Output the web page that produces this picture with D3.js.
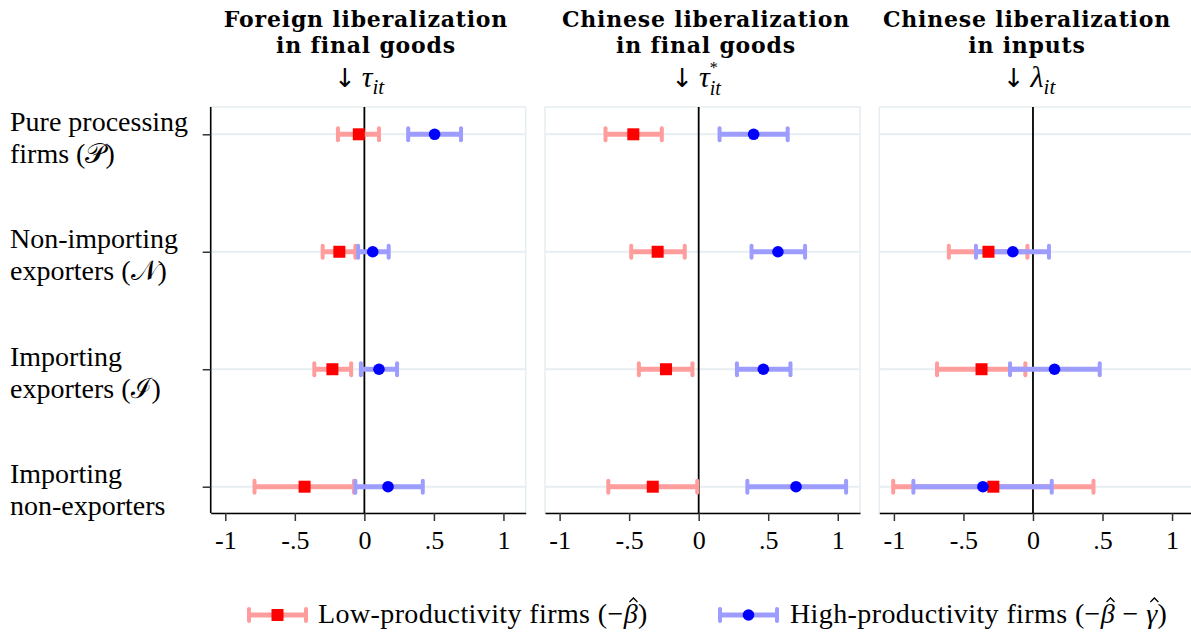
<!DOCTYPE html>
<html>
<head>
<meta charset="utf-8">
<script src="https://cdn.jsdelivr.net/npm/d3@7"></script>
<style>
  html, body { margin: 0; padding: 0; background: #fff; }
  svg { display: block; }
</style>
</head>
<body>
<script>
// ---------------- DATA ----------------
const categories = ["P", "N", "I", "M"];
const categoryLabels = [
  ["Pure processing", "firms (\u{1D4AB})"],
  ["Non-importing", "exporters (\u{1D4A9})"],
  ["Importing", "exporters (\u2110)"],
  ["Importing", "non-exporters"]
];
const panelTitles = [
  ["Foreign liberalization", "in final goods"],
  ["Chinese liberalization", "in final goods"],
  ["Chinese liberalization", "in inputs"]
];
const panelSymbols = ["\u03C4", "\u03C4", "\u03BB"];
const panelSuperscripts = ["", "*", ""];
const tickValues = [-1, -0.5, 0, 0.5, 1];
const tickLabels = ["-1", "-.5", "0", ".5", "1"];
const seriesNames = ["Low-productivity firms", "High-productivity firms"];

// Low-productivity firms (-beta): estimate, lower CI, upper CI per panel, per category
const lowEst = [[-0.04, -0.18, -0.23, -0.43], [-0.47, -0.295, -0.235, -0.33], [null, -0.32, -0.37, -0.285]];
const lowLo  = [[-0.19, -0.30, -0.36, -0.79], [-0.67, -0.485, -0.43, -0.65], [null, -0.605, -0.69, -1.005]];
const lowHi  = [[0.105, -0.065, -0.095, -0.075], [-0.265, -0.10, -0.045, -0.01], [null, -0.04, -0.055, 0.435]];
// High-productivity firms (-beta - gamma)
const highEst = [[0.505, 0.06, 0.105, 0.17], [0.395, 0.57, 0.465, 0.70], [null, -0.145, 0.155, -0.36]];
const highLo  = [[0.315, -0.045, -0.025, -0.065], [0.15, 0.38, 0.275, 0.35], [null, -0.41, -0.165, -0.86]];
const highHi  = [[0.695, 0.175, 0.235, 0.42], [0.64, 0.765, 0.66, 1.06], [null, 0.115, 0.48, 0.135]];

// ---------------- LAYOUT / STYLE ----------------
const W = 1191, H = 634;
const panelLeft = [210.7, 545, 879.3];
const panelW = 315;
const plotTop = 107, plotBottom = 513;
const rowTop = 134.3, rowBottom = 486.7;
const xDomain = [-1.105, 1.16];
const titleX = [366, 706, 1027];
const mathX = [359, 696, 1029];
const serif = "'Liberation Serif', 'Times New Roman', serif";
const titleFont = "'DejaVu Serif', 'Liberation Serif', serif";
const gridColor = "#e6eef1";
const lowCI = "#ff9d9d", lowPt = "#ff0000";
const highCI = "#9d9dff", highPt = "#0000ff";

const svg = d3.select("body").append("svg").attr("width", W).attr("height", H)
  .style("font-family", serif);

const y = d3.scalePoint().domain(categories).range([rowTop, rowBottom]);

const seriesDefs = [
  { est: lowEst, lo: lowLo, hi: lowHi, ci: lowCI, pt: lowPt, shape: "square" },
  { est: highEst, lo: highLo, hi: highHi, ci: highCI, pt: highPt, shape: "circle" }
];

panelTitles.forEach((title, p) => {
  const x = d3.scaleLinear().domain(xDomain).range([panelLeft[p], panelLeft[p] + panelW]);
  const g = svg.append("g");

  // plot region border
  g.append("rect")
    .attr("x", x.range()[0]).attr("y", plotTop)
    .attr("width", panelW).attr("height", plotBottom - plotTop)
    .attr("fill", "none").attr("stroke", gridColor).attr("stroke-width", 1.5);

  // horizontal gridlines
  g.selectAll(".grid").data(categories).join("line")
    .attr("x1", x.range()[0]).attr("x2", x.range()[1])
    .attr("y1", d => y(d)).attr("y2", d => y(d))
    .attr("stroke", gridColor).attr("stroke-width", 2);

  // zero line
  g.append("line")
    .attr("x1", x(0)).attr("x2", x(0))
    .attr("y1", plotTop).attr("y2", plotBottom)
    .attr("stroke", "#000").attr("stroke-width", 1.8);

  const rowsOf = s => categories.map((c, i) => ({ c, est: s.est[p][i], lo: s.lo[p][i], hi: s.hi[p][i] }))
    .filter(d => d.est !== null);

  // confidence intervals first
  seriesDefs.forEach(s => {
    const rows = rowsOf(s);
    const sg = g.append("g");
    sg.selectAll(".ci").data(rows).join("line")
      .attr("x1", d => x(d.lo)).attr("x2", d => x(d.hi))
      .attr("y1", d => y(d.c)).attr("y2", d => y(d.c))
      .attr("stroke", s.ci).attr("stroke-width", 5);
    ["lo", "hi"].forEach(k => {
      sg.selectAll(".cap" + k).data(rows).join("line")
        .attr("x1", d => x(d[k])).attr("x2", d => x(d[k]))
        .attr("y1", d => y(d.c) - 6).attr("y2", d => y(d.c) + 6)
        .attr("stroke", s.ci).attr("stroke-width", 4).attr("stroke-linecap", "round");
    });
  });
  // then point estimates
  seriesDefs.forEach(s => {
    const rows = rowsOf(s);
    const sg = g.append("g");
    if (s.shape === "square") {
      sg.selectAll(".pt").data(rows).join("rect")
        .attr("x", d => x(d.est) - 6).attr("y", d => y(d.c) - 6)
        .attr("width", 12).attr("height", 12).attr("fill", s.pt);
    } else {
      sg.selectAll(".pt").data(rows).join("circle")
        .attr("cx", d => x(d.est)).attr("cy", d => y(d.c))
        .attr("r", 5.8).attr("fill", s.pt);
    }
  });

  // bottom axis
  const ax = g.append("g").attr("transform", `translate(0,${plotBottom})`)
    .call(d3.axisBottom(x).tickValues(tickValues)
      .tickFormat((d, i) => tickLabels[i]).tickSize(8).tickSizeOuter(0).tickPadding(10));
  ax.select(".domain").attr("stroke", "#000").attr("stroke-width", 1.6);
  ax.selectAll(".tick line").attr("stroke", "#333").attr("stroke-width", 1.5);
  ax.selectAll(".tick text").attr("font-family", serif).attr("font-size", 26).attr("fill", "#000");

  // left axis on first panel
  if (p === 0) {
    const ay = g.append("g").attr("transform", `translate(${x.range()[0]},0)`)
      .call(d3.axisLeft(y).tickSize(8).tickSizeOuter(0).tickFormat(""));
    ay.select(".domain").attr("stroke", "#000").attr("stroke-width", 1.6)
      .attr("d", `M0,${plotTop}V${plotBottom}`);
    ay.selectAll(".tick line").attr("stroke", "#333").attr("stroke-width", 1.5);
  }

  // title
  const t = svg.append("text").attr("text-anchor", "middle").attr("font-family", titleFont)
    .attr("font-weight", "bold").attr("font-size", 22).attr("letter-spacing", 0.8).attr("fill", "#000");
  title.forEach((line, li) => {
    t.append("tspan").attr("x", titleX[p]).attr("y", 27 + li * 25.5).text(line);
  });
  // math line
  const m = svg.append("text").attr("text-anchor", "middle")
    .attr("x", mathX[p]).attr("y", 87).attr("font-size", 30).attr("fill", "#000");
  m.append("tspan").attr("font-family", "'DejaVu Sans', sans-serif").attr("font-size", 26).text("\u2193");
  m.append("tspan").attr("font-style", "italic").attr("dx", 6).text(panelSymbols[p]);
  if (panelSuperscripts[p]) {
    m.append("tspan").attr("font-size", 16).attr("dy", -14).text(panelSuperscripts[p]);
    m.append("tspan").attr("font-size", 20).attr("font-style", "italic").attr("dx", -8).attr("dy", 22).text("it");
  } else {
    m.append("tspan").attr("font-size", 21).attr("font-style", "italic").attr("dy", 7).text("it");
  }
});

// y category labels
categories.forEach((c, i) => {
  const lines = categoryLabels[i];
  const t = svg.append("text").attr("font-size", 28).attr("fill", "#000");
  lines.forEach((line, li) => {
    t.append("tspan").attr("x", 10).attr("y", y(c) - 13 + li * 32)
      .attr("dominant-baseline", "central").text(line);
  });
});

// legend
const legY = 615;
const legendItems = [
  { x0: 249, x1: 306, ci: lowCI, pt: lowPt, shape: "square", tx: 318,
    parts: [{ s: seriesNames[0] + " (\u2212" }, { s: "\u03B2", hat: true }, { s: ")" }] },
  { x0: 720, x1: 777, ci: highCI, pt: highPt, shape: "circle", tx: 790,
    parts: [{ s: seriesNames[1] + " (\u2212" }, { s: "\u03B2", hat: true }, { s: " \u2212 " }, { s: "\u03B3", hat: true }, { s: ")" }] }
];
legendItems.forEach(it => {
  const lg = svg.append("g");
  lg.append("line").attr("x1", it.x0).attr("x2", it.x1).attr("y1", legY).attr("y2", legY)
    .attr("stroke", it.ci).attr("stroke-width", 5);
  [it.x0, it.x1].forEach(xx => lg.append("line").attr("x1", xx).attr("x2", xx)
    .attr("y1", legY - 6).attr("y2", legY + 6).attr("stroke", it.ci)
    .attr("stroke-width", 4).attr("stroke-linecap", "round"));
  const cx = (it.x0 + it.x1) / 2;
  if (it.shape === "square") {
    lg.append("rect").attr("x", cx - 6).attr("y", legY - 6).attr("width", 12).attr("height", 12).attr("fill", it.pt);
  } else {
    lg.append("circle").attr("cx", cx).attr("cy", legY).attr("r", 5.8).attr("fill", it.pt);
  }
  const baseY = legY + 8;
  const t = lg.append("text").attr("x", it.tx).attr("y", baseY).attr("font-size", 28)
    .attr("letter-spacing", 0.4).attr("fill", "#000");
  const hats = [];
  it.parts.forEach(part => {
    const ts = t.append("tspan").text(part.s);
    if (part.hat) { ts.attr("font-style", "italic"); hats.push(ts.node()); }
  });
  // circumflex accents drawn above the hatted symbols
  hats.forEach(node => {
    const sx = node.getStartPositionOfChar(0).x;
    const w = node.getComputedTextLength();
    const hx = sx + w / 2 + 2.5;
    const top = baseY - 25;
    lg.append("path").attr("d", `M${hx - 4},${top + 4}L${hx},${top}L${hx + 4},${top + 4}`)
      .attr("fill", "none").attr("stroke", "#000").attr("stroke-width", 1.3);
  });
});
</script>
</body>
</html>
